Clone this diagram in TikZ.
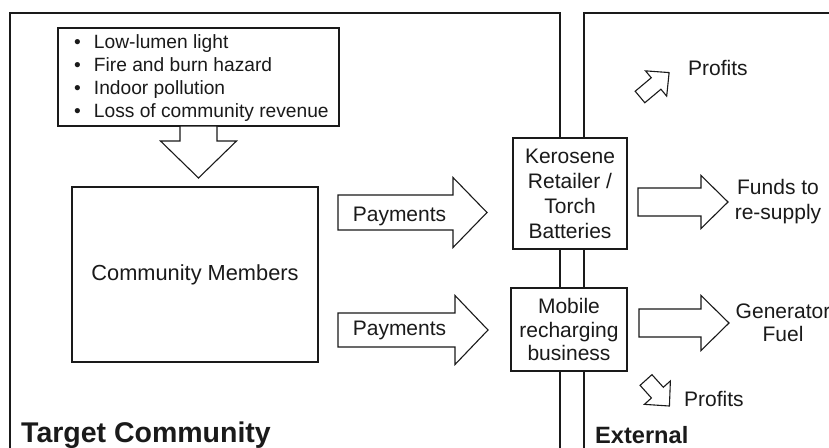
\documentclass[tikz,border=0pt]{standalone}
\usepackage{fontspec}
\setmainfont{Liberation Sans}
\usetikzlibrary{positioning}
\definecolor{ink}{HTML}{1A1A1A}
\tikzset{
  frame/.style={draw=ink,line width=1.9pt},
  thinbox/.style={draw=ink,line width=1.1pt,fill=white,rectangle,inner sep=0pt},
  thickbox/.style={draw=ink,line width=1.9pt,fill=white,rectangle,inner sep=0pt,align=center,text=ink},
  barrow/.style={draw=ink,line width=1.1pt,fill=white,line join=miter},
  lbl/.style={text=ink,inner sep=0pt,font=\fontsize{21}{25}\selectfont},
  bul/.style={text=ink,inner sep=0pt,anchor=base west,font=\fontsize{19.2}{23}\selectfont},
}
\newcommand\blockarrow[6]{%
  \begin{scope}[shift={#1},rotate=#2]
    \draw[barrow] (0,-#4/2) -- ({#3-#6},-#4/2) -- ({#3-#6},-#5/2) -- (#3,0)
      -- ({#3-#6},#5/2) -- ({#3-#6},#4/2) -- (0,#4/2) -- cycle;
  \end{scope}}
\begin{document}
\begin{tikzpicture}[x=1pt,y=-1pt]
\useasboundingbox (0,0) rectangle (829,447);
\clip (0,0) rectangle (829,447);
\fill[white] (0,0) rectangle (829,447);
% frames
\draw[frame] (10,470) -- (10,13) -- (560,13) -- (560,470);
\draw[frame] (584,470) -- (584,13) -- (850,13);
% issues box
\node[thinbox,minimum width=281pt,minimum height=98pt] (issues) at (198.5,77) {};
\node[bul] (b1) at (74,48) {\textbullet\hspace{13pt}Low-lumen light};
\node[bul] (b2) at (74,71.5) {\textbullet\hspace{13pt}Fire and burn hazard};
\node[bul] (b3) at (74,94.5) {\textbullet\hspace{13pt}Indoor pollution};
\node[bul] (b4) at (74,117.5) {\textbullet\hspace{13pt}Loss of community revenue};
% down arrow
\blockarrow{(198.5,126)}{-90}{52}{37}{76}{37}
% community members
\node[thinbox,minimum width=246pt,minimum height=175pt,text=ink,font=\fontsize{21.8}{25}\selectfont] (cm) at (195,274.5) {Community Members};
% payments arrows
\blockarrow{(338,212.5)}{0}{149}{35}{70}{34}
\blockarrow{(338,330)}{0}{150}{34}{69}{33}
\node[lbl,anchor=base] (p1) at (399.5,221) {Payments};
\node[lbl,anchor=base] (p2) at (399.5,335) {Payments};
% retailer boxes
\node[thickbox,minimum width=114pt,minimum height=111pt,font=\fontsize{21}{25}\selectfont] (ker) at (570,193.5) {Kerosene\\Retailer /\\Torch\\Batteries};
\node[thickbox,minimum width=116pt,minimum height=83pt,font=\fontsize{21}{23.5}\selectfont] (mob) at (569,329.5) {Mobile\\recharging\\business};
% outgoing arrows
\blockarrow{(638,202)}{0}{90}{28}{53}{27}
\blockarrow{(639,323)}{0}{90}{28}{55}{28}
\node[lbl,align=center] (funds) at (778,202) {Funds to\\re-supply};
\node[lbl,align=center,font=\fontsize{21}{23}\selectfont] (gen) at (783,323) {Generator\\Fuel};
% profits
\blockarrow{(640,97)}{40}{38}{15}{33}{17}
\blockarrow{(646,380)}{-48}{35}{16}{35}{18}
\node[lbl,anchor=base west] (prof1) at (688,75) {Profits};
\node[lbl,anchor=base west] (prof2) at (684,406) {Profits};
% region labels
\node[text=ink,inner sep=0pt,anchor=base west,font=\bfseries\fontsize{28.5}{30}\selectfont] (tc) at (21,442) {Target Community};
\node[text=ink,inner sep=0pt,anchor=base west,font=\bfseries\fontsize{23.6}{26}\selectfont] (ext) at (595,443) {External};
\end{tikzpicture}
\end{document}
